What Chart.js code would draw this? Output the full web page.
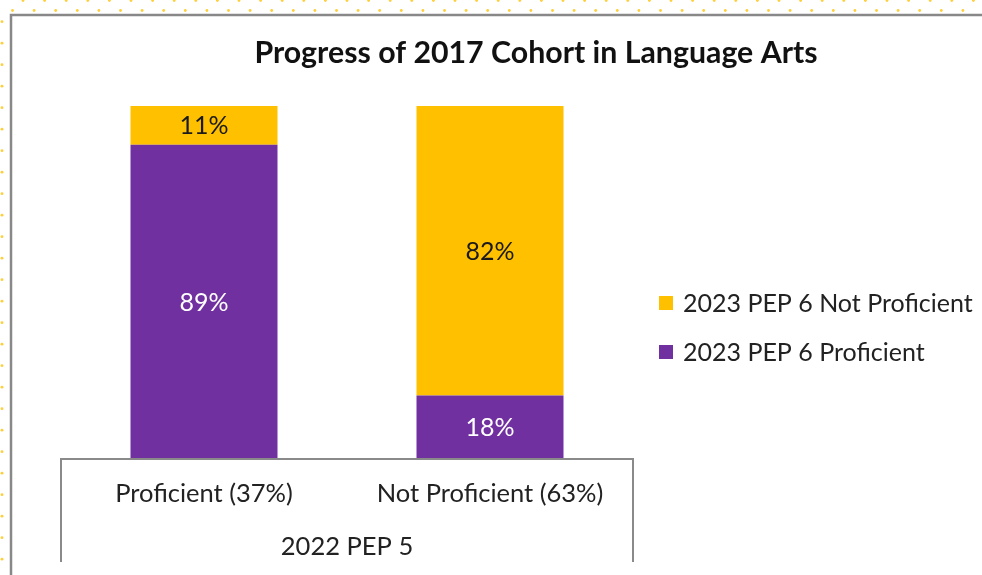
<!DOCTYPE html>
<html><head><meta charset="utf-8">
<script src="https://cdn.jsdelivr.net/npm/chart.js@4.4.0/dist/chart.umd.min.js"></script>
<style>html,body{margin:0;padding:0;background:#fff;}canvas{display:block}</style>
</head><body><canvas id="c" width="982" height="575"></canvas>
<script>
const chartTitle = 'Progress of 2017 Cohort in Language Arts';
const categories = ['Proficient (37%)', 'Not Proficient (63%)'];
const groupLabel = '2022 PEP 5';
const seriesNames = ['2023 PEP 6 Proficient', '2023 PEP 6 Not Proficient'];
const proficient = [89, 18];
const notProficient = [11, 82];
const seriesColors = ['#7030A0', '#FFC000'];
const labelColors = ['#FFFFFF', '#1a1a1a'];

const FONT = 'Lato, "Open Sans", sans-serif';
const TEXT = '#222222';

const decor = {
  id: 'decor',
  beforeDraw(chart) {
    const ctx = chart.ctx;
    ctx.save();
    ctx.fillStyle = '#fff';
    ctx.fillRect(0, 0, chart.width, chart.height);
    ctx.fillStyle = '#FFCF3A';
    for (let x = 23; x < chart.width; x += 21.6) { ctx.beginPath(); ctx.arc(x, 0.5, 1.4, 0, Math.PI * 2); ctx.fill(); }
    for (let x = 12.5; x < chart.width; x += 21.6) { ctx.beginPath(); ctx.arc(x, 10.5, 1.4, 0, Math.PI * 2); ctx.fill(); }
    for (let y = 21.7; y < chart.height; y += 21.5) { ctx.beginPath(); ctx.arc(2, y, 1.4, 0, Math.PI * 2); ctx.fill(); }
    ctx.strokeStyle = '#888888';
    ctx.lineWidth = 2.5;
    ctx.beginPath();
    ctx.moveTo(11, chart.height); ctx.lineTo(11, 15); ctx.lineTo(chart.width, 15);
    ctx.stroke();
    ctx.restore();
  },
  afterDraw(chart) {
    const ctx = chart.ctx;
    const a = chart.chartArea;
    ctx.save();
    ctx.strokeStyle = '#8a8a8a';
    ctx.lineWidth = 2;
    ctx.beginPath();
    ctx.moveTo(a.left, 562); ctx.lineTo(a.left, a.bottom); ctx.lineTo(a.right, a.bottom); ctx.lineTo(a.right, 562);
    ctx.stroke();
    ctx.fillStyle = '#111';
    ctx.font = 'bold 30.3px ' + FONT;
    ctx.textAlign = 'center';
    ctx.textBaseline = 'middle';
    ctx.fillText(chartTitle, 536, 53);
    ctx.font = '25px ' + FONT;
    ctx.textAlign = 'left';
    const ds = chart.data.datasets;
    const ys = [303, 352];
    for (let i = 0; i < ds.length; i++) {
      const d = ds[ds.length - 1 - i];
      ctx.fillStyle = d.backgroundColor;
      ctx.fillRect(659, ys[i] - 7, 14, 14);
      ctx.fillStyle = TEXT;
      ctx.fillText(d.label, 683, ys[i] + 1);
    }
    ctx.restore();
  },
  afterDatasetsDraw(chart) {
    const ctx = chart.ctx;
    ctx.save();
    ctx.font = '25px ' + FONT;
    ctx.textAlign = 'center';
    ctx.textBaseline = 'middle';
    chart.data.datasets.forEach((d, di) => {
      const meta = chart.getDatasetMeta(di);
      meta.data.forEach((bar, i) => {
        ctx.fillStyle = labelColors[di];
        ctx.fillText(d.data[i] + '%', bar.x, (bar.y + bar.base) / 2 + 1);
      });
    });
    ctx.restore();
  }
};

new Chart(document.getElementById('c'), {
  type: 'bar',
  data: {
    labels: categories,
    datasets: [
      { label: seriesNames[0], data: proficient, backgroundColor: seriesColors[0] },
      { label: seriesNames[1], data: notProficient, backgroundColor: seriesColors[1] }
    ]
  },
  options: {
    responsive: false,
    animation: false,
    devicePixelRatio: 1,
    barPercentage: 0.514,
    categoryPercentage: 1,
    layout: { padding: { left: 61, right: 349, top: 106, bottom: 0 } },
    plugins: { legend: { display: false }, title: { display: false }, tooltip: { enabled: false } },
    scales: {
      x: {
        stacked: true,
        grid: { display: false, drawTicks: false },
        border: { display: false },
        ticks: { color: TEXT, font: { family: FONT, size: 25.5 }, padding: 19, maxRotation: 0, autoSkip: false },
        title: { display: true, text: groupLabel, color: TEXT, font: { family: FONT, size: 25.5 }, padding: { top: 0, bottom: 13 } },
        afterFit(s) { s.height = 116; }
      },
      y: { stacked: true, display: false, min: 0, max: 100 }
    }
  },
  plugins: [decor]
});
</script></body></html>
